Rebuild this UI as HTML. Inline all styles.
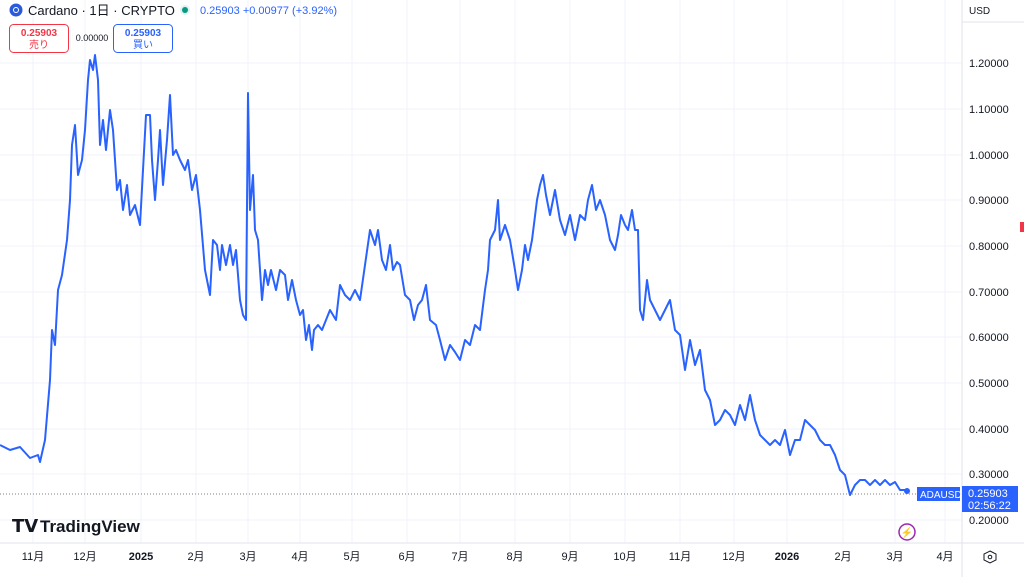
<!DOCTYPE html><html><head><meta charset="utf-8"><style>
body{margin:0;width:1024px;height:577px;overflow:hidden;background:#fff;font-family:"Liberation Sans","Noto Sans CJK JP",sans-serif;position:relative}
.t{position:absolute;font-size:11px;color:#131722}
</style></head><body>
<svg width="1024" height="577" style="position:absolute;left:0;top:0" font-family="Liberation Sans, Noto Sans CJK JP, sans-serif">
<g stroke="#f0f3fa" stroke-width="1">
<line x1="0" y1="63" x2="962" y2="63"/><line x1="0" y1="109" x2="962" y2="109"/><line x1="0" y1="155" x2="962" y2="155"/><line x1="0" y1="200" x2="962" y2="200"/><line x1="0" y1="246" x2="962" y2="246"/><line x1="0" y1="292" x2="962" y2="292"/><line x1="0" y1="337" x2="962" y2="337"/><line x1="0" y1="383" x2="962" y2="383"/><line x1="0" y1="429" x2="962" y2="429"/><line x1="0" y1="474" x2="962" y2="474"/><line x1="0" y1="520" x2="962" y2="520"/>
<line x1="33" y1="0" x2="33" y2="543"/><line x1="85" y1="0" x2="85" y2="543"/><line x1="141" y1="0" x2="141" y2="543"/><line x1="196" y1="0" x2="196" y2="543"/><line x1="248" y1="0" x2="248" y2="543"/><line x1="300" y1="0" x2="300" y2="543"/><line x1="352" y1="0" x2="352" y2="543"/><line x1="407" y1="0" x2="407" y2="543"/><line x1="460" y1="0" x2="460" y2="543"/><line x1="515" y1="0" x2="515" y2="543"/><line x1="570" y1="0" x2="570" y2="543"/><line x1="625" y1="0" x2="625" y2="543"/><line x1="680" y1="0" x2="680" y2="543"/><line x1="734" y1="0" x2="734" y2="543"/><line x1="787" y1="0" x2="787" y2="543"/><line x1="843" y1="0" x2="843" y2="543"/><line x1="895" y1="0" x2="895" y2="543"/><line x1="945" y1="0" x2="945" y2="543"/>
</g>
<line x1="962" y1="0" x2="962" y2="577" stroke="#e0e3eb"/>
<line x1="0" y1="543" x2="1024" y2="543" stroke="#e0e3eb"/>
<line x1="0" y1="494" x2="962" y2="494" stroke="#555" stroke-dasharray="1,2" stroke-width="0.8"/>
<polyline fill="none" stroke="#2962ff" stroke-width="2" stroke-linejoin="round" points="0,445 10,450 20,447 30,458 38,455 40,462 45,440 50,380 52,330 55,345 58,290 62,275 67,240 70,200 72,145 75,125 78,175 82,160 85,130 88,80 90,60 93,70 95,55 98,80 100,145 103,120 106,150 110,110 113,130 117,190 120,180 123,210 127,185 130,215 135,205 140,225 143,170 146,115 150,115 152,160 155,200 158,160 160,130 163,185 167,140 170,95 173,155 176,150 180,160 185,170 188,160 192,190 196,175 200,210 205,270 210,295 213,240 217,245 220,270 222,245 226,265 230,245 233,265 236,250 240,300 243,315 246,320 248,93 250,210 253,175 255,230 258,240 262,300 265,270 268,285 271,270 276,290 280,270 285,275 288,300 292,280 296,300 300,315 303,310 306,340 309,325 312,350 314,330 318,325 322,330 326,320 330,310 336,320 340,285 345,295 350,300 355,290 360,300 365,265 370,230 375,245 378,230 382,260 386,270 390,245 393,270 397,262 400,265 405,295 410,300 414,320 418,305 422,300 426,285 430,320 436,325 440,340 445,360 450,345 455,352 460,360 465,340 470,345 475,325 480,330 485,290 488,270 490,240 495,230 498,200 500,240 505,225 510,240 515,270 518,290 522,270 525,245 528,260 532,240 537,200 540,185 543,175 546,195 550,215 555,190 560,220 565,235 570,215 575,240 580,215 585,220 588,200 592,185 596,210 600,200 605,215 610,240 615,250 618,235 621,215 625,225 628,230 632,210 635,230 638,230 640,310 643,320 647,280 650,300 655,310 660,320 665,310 670,300 675,330 680,335 685,370 690,340 695,365 700,350 705,390 710,400 715,425 720,420 725,410 730,415 735,425 740,405 745,420 750,395 755,420 760,435 765,440 770,445 775,440 780,445 785,430 790,455 795,440 800,440 805,420 810,425 815,430 820,440 825,445 830,445 835,455 840,470 845,475 850,495 855,485 860,480 865,480 870,485 875,480 880,485 885,480 890,485 895,482 900,490 905,490 908,491"/>
<circle cx="907" cy="491" r="3" fill="#2962ff"/>
<g font-size="11" fill="#131722">
<text x="969" y="67">1.20000</text><text x="969" y="113">1.10000</text><text x="969" y="159">1.00000</text><text x="969" y="204">0.90000</text><text x="969" y="250">0.80000</text><text x="969" y="296">0.70000</text><text x="969" y="341">0.60000</text><text x="969" y="387">0.50000</text><text x="969" y="433">0.40000</text><text x="969" y="478">0.30000</text><text x="969" y="524">0.20000</text>
<text x="969" y="14" font-size="10">USD</text>
</g>
<line x1="962" y1="22" x2="1024" y2="22" stroke="#e0e3eb"/>
<rect x="917" y="487" width="43" height="14" fill="#2962ff"/><text x="920" y="498" font-size="10" fill="#fff">ADAUSD</text>
<rect x="962" y="486" width="56" height="26" fill="#2962ff"/><text x="968" y="497" font-size="11" fill="#fff">0.25903</text><text x="968" y="509" font-size="11" fill="#fff">02:56:22</text>
<g font-size="11" fill="#131722" text-anchor="middle">
<text x="33" y="560">11月</text><text x="85" y="560">12月</text><text x="141" y="560" font-weight="bold">2025</text><text x="196" y="560">2月</text><text x="248" y="560">3月</text><text x="300" y="560">4月</text><text x="352" y="560">5月</text><text x="407" y="560">6月</text><text x="460" y="560">7月</text><text x="515" y="560">8月</text><text x="570" y="560">9月</text><text x="625" y="560">10月</text><text x="680" y="560">11月</text><text x="734" y="560">12月</text><text x="787" y="560" font-weight="bold">2026</text><text x="843" y="560">2月</text><text x="895" y="560">3月</text><text x="945" y="560">4月</text>
</g>
<polygon points="990,551 996,554 996,560 990,563 984,560 984,554" fill="none" stroke="#131722"/>
<circle cx="990" cy="557" r="1.8" fill="none" stroke="#131722"/>
<circle cx="907" cy="532" r="8" fill="none" stroke="#9c27b0" stroke-width="1.5"/><text x="907" y="536" font-size="10" fill="#9c27b0" text-anchor="middle">⚡</text>
<rect x="1020" y="222" width="4" height="10" fill="#f23645"/>
<circle cx="16" cy="10" r="6.5" fill="#2a5ada"/><circle cx="16" cy="10" r="2.5" fill="none" stroke="#fff"/>
<text x="28" y="15" font-size="13" fill="#131722">Cardano · 1日 · CRYPTO</text>
<circle cx="185" cy="10" r="5" fill="#e0f2f1"/><circle cx="185" cy="10" r="3" fill="#089981"/>
<text x="200" y="14" font-size="11" fill="#2962ff">0.25903 +0.00977 (+3.92%)</text>
<rect x="9.5" y="24.5" width="59" height="28" rx="4" fill="#fff" stroke="#f23645"/>
<text x="39" y="36" font-size="10" fill="#f23645" text-anchor="middle" font-weight="bold">0.25903</text><text x="39" y="48" font-size="10" fill="#f23645" text-anchor="middle">売り</text>
<text x="92" y="41" font-size="9" fill="#131722" text-anchor="middle">0.00000</text>
<rect x="113.5" y="24.5" width="59" height="28" rx="4" fill="#fff" stroke="#2962ff"/>
<text x="143" y="36" font-size="10" fill="#2962ff" text-anchor="middle" font-weight="bold">0.25903</text><text x="143" y="48" font-size="10" fill="#2962ff" text-anchor="middle">買い</text>
<text x="12" y="532" font-size="18" font-weight="bold" fill="#131722">𝗧𝗩</text>
<text x="40" y="532" font-size="17" font-weight="bold" fill="#131722">TradingView</text>
</svg>
</body></html>
